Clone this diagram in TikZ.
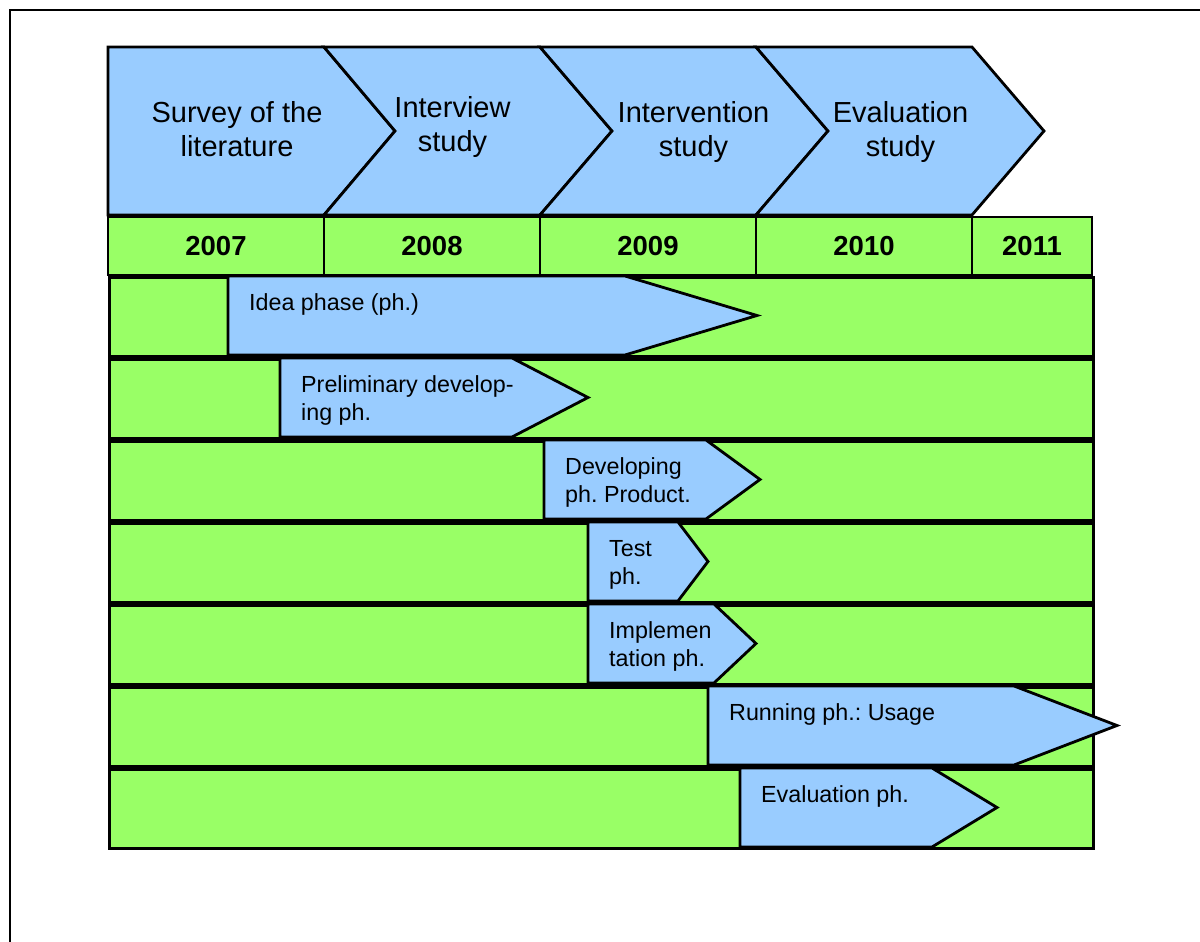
\documentclass[tikz,border=0pt]{standalone}
\usepackage{fontspec}
\setmainfont{Liberation Sans}
\frenchspacing
\definecolor{phaseblue}{HTML}{99CCFF}
\definecolor{lanegreen}{HTML}{99FF66}
\begin{document}
\begin{tikzpicture}[x=1pt,y=-1pt,
  frame/.style={draw=black,line width=2.4pt},
  stage/.style={draw=black,line width=2.8pt,fill=phaseblue,line join=miter},
  lane/.style={draw=black,line width=2.8pt,fill=lanegreen,inner sep=0pt,
    minimum width=984pt,minimum height=79pt,anchor=north west},
  yearcell/.style={draw=black,line width=2.8pt,fill=lanegreen,inner sep=0pt,
    minimum height=58pt,font=\fontsize{27.5}{33}\selectfont\bfseries},
  phase/.style={draw=black,line width=2.8pt,fill=phaseblue,line join=miter},
  stagetext/.style={font=\fontsize{29}{34}\selectfont,align=center,inner sep=0pt},
  phasetext/.style={font=\fontsize{23.3}{27.7}\selectfont,align=left,inner sep=0pt,anchor=north west},
]
\useasboundingbox (0,0) rectangle (1200,942);
\clip (0,0) rectangle (1200,942);
\fill[white] (0,0) rectangle (1200,942);
\draw[frame] (10,10) rectangle (1230,970);

% year row
\node[yearcell,minimum width=216pt] (y2007) at (216,246) {2007};
\node[yearcell,minimum width=216pt] (y2008) at (432,246) {2008};
\node[yearcell,minimum width=216pt] (y2009) at (648,246) {2009};
\node[yearcell,minimum width=216pt] (y2010) at (864,246) {2010};
\node[yearcell,minimum width=120pt] (y2011) at (1032,246) {2011};

% study stages
\draw[stage] (108,47) -- (324,47) -- (395,131) -- (324,215) -- (108,215) -- cycle;
\draw[stage] (324,47) -- (540,47) -- (612,131) -- (540,215) -- (324,215) -- (395,131) -- cycle;
\draw[stage] (540,47) -- (756,47) -- (828,131) -- (756,215) -- (540,215) -- (612,131) -- cycle;
\draw[stage] (756,47) -- (972,47) -- (1044,131) -- (972,215) -- (756,215) -- (828,131) -- cycle;
\node[stagetext] (s1) at (237,129.5) {Survey of the\\literature};
\node[stagetext] (s2) at (452.5,127.5) {Interview\\study};
\node[stagetext] (s3) at (693.5,132.5) {Intervention\\study};
\node[stagetext] (s4) at (900.5,132.5) {Evaluation\\study};

% lanes
\node[lane] (l1) at (108,276) {};
\node[lane] (l2) at (108,358) {};
\node[lane] (l3) at (108,440) {};
\node[lane] (l4) at (108,522) {};
\node[lane] (l5) at (108,604) {};
\node[lane] (l6) at (108,686) {};
\node[lane] (l7) at (108,768) {};

% phases
\draw[phase] (228,276) -- (625,276) -- (757,315.5) -- (625,355) -- (228,355) -- cycle;
\draw[phase] (280,358) -- (512,358) -- (588,397.5) -- (512,437) -- (280,437) -- cycle;
\draw[phase] (544,440) -- (706,440) -- (760,479.5) -- (706,519) -- (544,519) -- cycle;
\draw[phase] (588,522) -- (678,522) -- (708,561.5) -- (678,601) -- (588,601) -- cycle;
\draw[phase] (588,604) -- (714,604) -- (756,643.5) -- (714,683) -- (588,683) -- cycle;
\draw[phase] (708,686) -- (1014,686) -- (1117,725.5) -- (1014,765) -- (708,765) -- cycle;
\draw[phase] (740,768) -- (932,768) -- (997,807.5) -- (932,847) -- (740,847) -- cycle;

\node[phasetext] (p1) at (249,291.4) {\strut Idea phase (ph.)};
\node[phasetext] (p2) at (301,373.4) {\strut Preliminary develop-\\ing ph.};
\node[phasetext] (p3) at (565,455.4) {\strut Developing\\ph. Product.};
\node[phasetext] (p4) at (609,537.4) {\strut Test\\ph.};
\node[phasetext] (p5) at (609,619.4) {\strut Implemen\\tation ph.};
\node[phasetext] (p6) at (729,701.4) {\strut Running ph.: Usage};
\node[phasetext] (p7) at (761,783.4) {\strut Evaluation ph.};
\end{tikzpicture}
\end{document}
